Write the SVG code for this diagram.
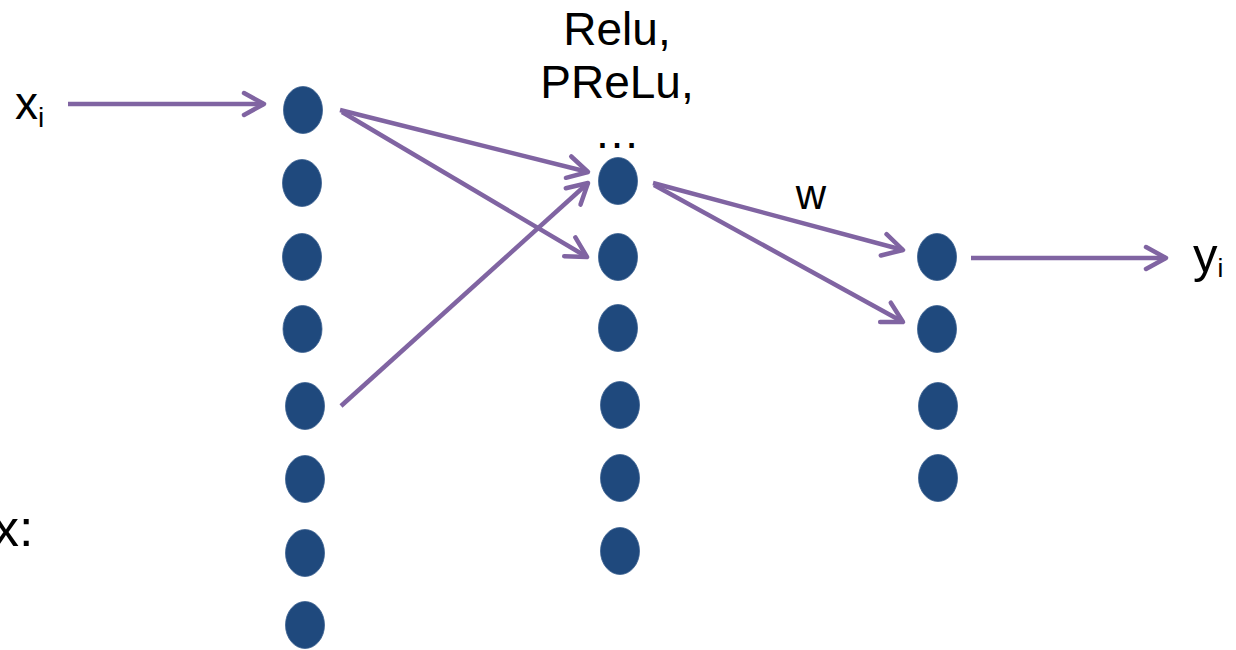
<svg xmlns="http://www.w3.org/2000/svg" width="1236" height="650" viewBox="0 0 1236 650">
  <defs>
    <style>
      .node { fill: #1F497D; stroke: #3A5F8F; stroke-width: 0.8; }
      .edge { stroke: #8064A2; stroke-width: 4.5; fill: none; marker-end: url(#chev); }
      .lbl { font-family: "Liberation Sans", Arial, sans-serif; fill: #000; }
    </style>
    <marker id="chev" markerUnits="userSpaceOnUse" viewBox="-24 -14 28 28" refX="0" refY="0" markerWidth="28" markerHeight="28" orient="auto">
      <path d="M -20 -11 L 0 0 L -20 11" fill="none" stroke="#8064A2" stroke-width="4.5" stroke-linecap="round" stroke-linejoin="round"/>
    </marker>
  </defs>
  <rect width="1236" height="650" fill="#fff"/>

  <!-- labels -->
  <g id="labels">
    <text class="lbl" x="15" y="119" font-size="46">x<tspan font-size="28" dy="8">i</tspan></text>
    <text class="lbl" x="-7" y="546" font-size="52">x:</text>
    <text class="lbl" x="1193" y="272" font-size="49">y<tspan font-size="26" dy="5">i</tspan></text>
    <text class="lbl" x="811" y="209" font-size="42" text-anchor="middle">w</text>
    <text class="lbl" x="617" y="45" font-size="46" text-anchor="middle">Relu,</text>
    <text class="lbl" x="617" y="98" font-size="46" text-anchor="middle">PReLu,</text>
    <text class="lbl" x="617" y="148" font-size="46" text-anchor="middle">…</text>
  </g>

  <!-- connectors -->
  <g id="connectors">
    <line class="edge" x1="68" y1="104" x2="264" y2="104"/>
    <line class="edge" x1="340" y1="110" x2="588" y2="172"/>
    <line class="edge" x1="342" y1="112" x2="587" y2="257"/>
    <line class="edge" x1="341" y1="406" x2="588" y2="183"/>
    <line class="edge" x1="653" y1="183" x2="903" y2="250"/>
    <line class="edge" x1="654" y1="185" x2="903" y2="322"/>
    <line class="edge" x1="971" y1="258" x2="1166" y2="258"/>
  </g>

  <!-- input layer -->
  <g id="layer-in">
    <ellipse id="in1" class="node" cx="303" cy="110" rx="19.5" ry="23.5"/>
    <ellipse id="in2" class="node" cx="302" cy="183" rx="19.5" ry="23.5"/>
    <ellipse id="in3" class="node" cx="302" cy="257" rx="19.5" ry="23.5"/>
    <ellipse id="in4" class="node" cx="302.5" cy="329" rx="19.5" ry="23.5"/>
    <ellipse id="in5" class="node" cx="305" cy="406" rx="19.5" ry="23.5"/>
    <ellipse id="in6" class="node" cx="305" cy="479" rx="19.5" ry="23.5"/>
    <ellipse id="in7" class="node" cx="305" cy="553" rx="19.5" ry="23.5"/>
    <ellipse id="in8" class="node" cx="305" cy="625" rx="19.5" ry="23.5"/>
  </g>

  <!-- hidden layer -->
  <g id="layer-hidden">
    <ellipse id="h1" class="node" cx="618" cy="181" rx="19.5" ry="23.5"/>
    <ellipse id="h2" class="node" cx="618" cy="257" rx="19.5" ry="23.5"/>
    <ellipse id="h3" class="node" cx="618" cy="328" rx="19.5" ry="23.5"/>
    <ellipse id="h4" class="node" cx="620" cy="405" rx="19.5" ry="23.5"/>
    <ellipse id="h5" class="node" cx="620" cy="478" rx="19.5" ry="23.5"/>
    <ellipse id="h6" class="node" cx="620" cy="551" rx="19.5" ry="23.5"/>
  </g>

  <!-- output layer -->
  <g id="layer-out">
    <ellipse id="o1" class="node" cx="937" cy="257" rx="19.5" ry="23.5"/>
    <ellipse id="o2" class="node" cx="937" cy="329" rx="19.5" ry="23.5"/>
    <ellipse id="o3" class="node" cx="938" cy="406" rx="19.5" ry="23.5"/>
    <ellipse id="o4" class="node" cx="938" cy="478" rx="19.5" ry="23.5"/>
  </g>
</svg>
